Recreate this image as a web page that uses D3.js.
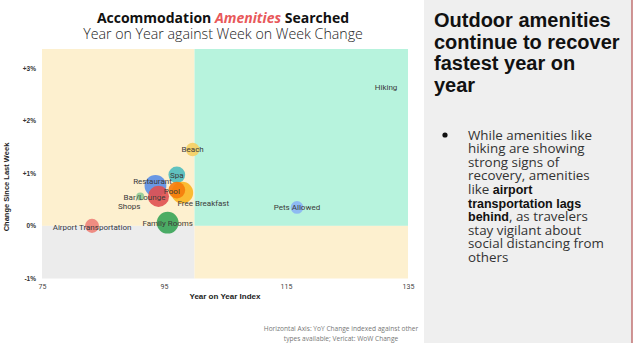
<!DOCTYPE html>
<html><head><meta charset="utf-8">
<script src="https://cdn.jsdelivr.net/npm/d3@7"></script>
<style>
html,body{margin:0;padding:0;background:#fff;}
svg{display:block;}
</style></head>
<body>
<svg id="chart" width="635" height="364"></svg>
<script>
// ---- data ----
const amenities = ["Hiking","Beach","Spa","Free Breakfast","Pool","Restaurant","Bar/Lounge","Shops","Family Rooms","Pets Allowed","Airport Transportation"];
const yoyIndex  = [131.4, 99.7, 97.1, 98.0, 97.1, 93.6, 94.1, 91.1, 95.6, 116.8, 83.2];
const wowChange = [2.64, 1.45, 0.97, 0.63, 0.68, 0.76, 0.56, 0.56, 0.06, 0.35, 0.0];
const searchVolume = [0, 3.8, 5.8, 9.7, 5.8, 9.8, 9.2, 1.3, 9.8, 3.3, 4.1];
const xTicks = [75, 95, 115, 135];
const yTicks = [-1, 0, 1, 2, 3];
const headlineLines = ["Outdoor amenities","continue to recover","fastest year on","year"];
const bulletLines = [
  [["While amenities like",0]],
  [["hiking are showing",0]],
  [["strong signs of",0]],
  [["recovery, amenities",0]],
  [["like ",0],["airport",1]],
  [["transportation lags",1]],
  [["behind",1],[", as travelers",0]],
  [["stay vigilant about",0]],
  [["social distancing from",0]],
  [["others",0]]
];
const footnoteLines = ["Horizontal Axis: YoY Change indexed against other","types available; Vericat: WoW Change"];

// ---- styles / layout ----
const colors = {
  "Hiking":"#7fd6b5","Beach":"#f5cf62","Spa":"#4fbcbc","Free Breakfast":"#fbb520","Pool":"#f57c0a",
  "Restaurant":"#5a8ee6","Bar/Lounge":"#e05050","Shops":"#8fcb96","Family Rooms":"#38a456",
  "Pets Allowed":"#8ab4f4","Airport Transportation":"#ee8278"
};
const labelOffset = {
  "Restaurant":[-3,-5],"Pool":[-5,1],"Free Breakfast":[21,10],"Bar/Lounge":[-14,0.5],"Shops":[-11,10],
  "Airport Transportation":[0,1.5]
};
const data = amenities.map((a,i)=>({name:a,x:yoyIndex[i],y:wowChange[i],v:searchVolume[i]}));

const svg = d3.select("#chart");
const m = {left:42, right:408, top:49, bottom:278.5};
const x = d3.scaleLinear().domain([75,135]).range([m.left,m.right]);
const y = d3.scaleLinear().domain([-1,3.36]).range([m.bottom,m.top]);
const r = d3.scaleSqrt().domain([0,10]).range([0,11]);

// right panel
svg.append("rect").attr("x",424).attr("y",0).attr("width",208).attr("height",343).attr("fill","#efefef");
svg.append("line").attr("x1",632).attr("x2",632).attr("y1",0).attr("y2",343).attr("stroke","#c07272").attr("stroke-width",1.5);

// quadrants
const quads = [
  [75,100,3.36,0,"#fdf0cf"],[100,135,3.36,0,"#b7f3dd"],
  [75,100,0,-1,"#ececec"],[100,135,0,-1,"#fdf0cf"]
];
svg.append("g").selectAll("rect").data(quads).join("rect")
  .attr("x",d=>x(d[0])).attr("width",d=>x(d[1])-x(d[0]))
  .attr("y",d=>y(d[2])).attr("height",d=>y(d[3])-y(d[2]))
  .attr("fill",d=>d[4]);

// axes
const xAxis = d3.axisBottom(x).tickValues(xTicks).tickSize(0).tickPadding(5);
const gx = svg.append("g").attr("transform",`translate(0,${m.bottom+1})`).call(xAxis);
gx.select(".domain").remove();
gx.selectAll("text").attr("font-family","Roboto").attr("font-size",7).attr("fill","#444");
const yAxis = d3.axisLeft(y).tickValues(yTicks).tickSize(0).tickPadding(6)
  .tickFormat(d=> d>0 ? "+"+d+"%" : d+"%");
const gy = svg.append("g").attr("transform",`translate(${m.left},0)`).call(yAxis);
gy.select(".domain").remove();
gy.selectAll("text").attr("font-family","Liberation Sans").attr("font-weight","bold").attr("font-size",6.5).attr("fill","#333");

svg.append("text").attr("x",(m.left+m.right)/2).attr("y",299).attr("text-anchor","middle")
  .attr("font-family","Liberation Sans").attr("font-weight","bold").attr("font-size",8).attr("fill","#222")
  .text("Year on Year Index");
svg.append("text").attr("transform","translate(9,187) rotate(-90)").attr("text-anchor","middle")
  .attr("font-family","Liberation Sans").attr("font-weight","bold").attr("font-size",7.5).attr("fill","#222")
  .text("Change Since Last Week");

// bubbles
svg.append("g").selectAll("circle").data(data).join("circle")
  .attr("cx",d=>x(d.x)).attr("cy",d=>y(d.y)).attr("r",d=>r(d.v))
  .attr("fill",d=>colors[d.name]).attr("fill-opacity",0.9);
svg.append("g").selectAll("text").data(data).join("text")
  .attr("x",d=>x(d.x)+((labelOffset[d.name]||[0,0])[0]))
  .attr("y",d=>y(d.y)+((labelOffset[d.name]||[0,0])[1]))
  .attr("dy","0.35em").attr("text-anchor","middle")
  .attr("font-family","Roboto").attr("font-size",8).attr("fill","#3a3a3a")
  .text(d=>d.name);

// title
const t = svg.append("text").attr("x",223).attr("y",22.5).attr("text-anchor","middle")
  .attr("font-family","Open Sans").attr("font-weight","bold").attr("font-size",14).attr("fill","#111");
t.append("tspan").text("Accommodation ");
t.append("tspan").attr("fill","#e8585a").attr("font-style","italic").text("Amenities");
t.append("tspan").text(" Searched");
svg.append("text").attr("x",223).attr("y",39).attr("text-anchor","middle")
  .attr("font-family","Open Sans").attr("font-weight",300).attr("font-size",14.2).attr("fill","#222")
  .text("Year on Year against Week on Week Change");

// headline
svg.append("g").selectAll("text").data(headlineLines).join("text")
  .attr("x",434).attr("y",(d,i)=>27+i*21.7)
  .attr("font-family","Liberation Sans").attr("font-weight","bold").attr("font-size",20).attr("fill","#111")
  .text(d=>d);

// bullet
svg.append("circle").attr("cx",445).attr("cy",135).attr("r",2.6).attr("fill","#111");
const bt = svg.append("g").selectAll("text").data(bulletLines).join("text")
  .attr("x",468).attr("y",(d,i)=>139.5+i*13.6)
  .attr("fill","#333");
bt.selectAll("tspan").data(d=>d).join("tspan")
  .attr("font-family",d=>d[1]?"Liberation Sans":"Open Sans")
  .attr("font-size",d=>d[1]?12.5:12)
  .attr("font-weight",d=>d[1]?"bold":"normal")
  .attr("fill",d=>d[1]?"#111":"#333")
  .text(d=>d[0]);
// fit regular-weight body size so the longest line matches the panel width used in the reference
const longest = bt.filter((d,i)=>i===8).node();
const w = longest.getComputedTextLength();
if (w > 0) {
  const fs = 12 * 136 / w;
  bt.selectAll("tspan").filter(d=>!d[1]).attr("font-size", fs);
}

// footnote
svg.append("g").selectAll("text").data(footnoteLines).join("text")
  .attr("x",341).attr("y",(d,i)=>331+i*10).attr("text-anchor","middle")
  .attr("font-family","Open Sans").attr("font-size",6.6).attr("fill","#777")
  .text(d=>d);
</script>
</body></html>
